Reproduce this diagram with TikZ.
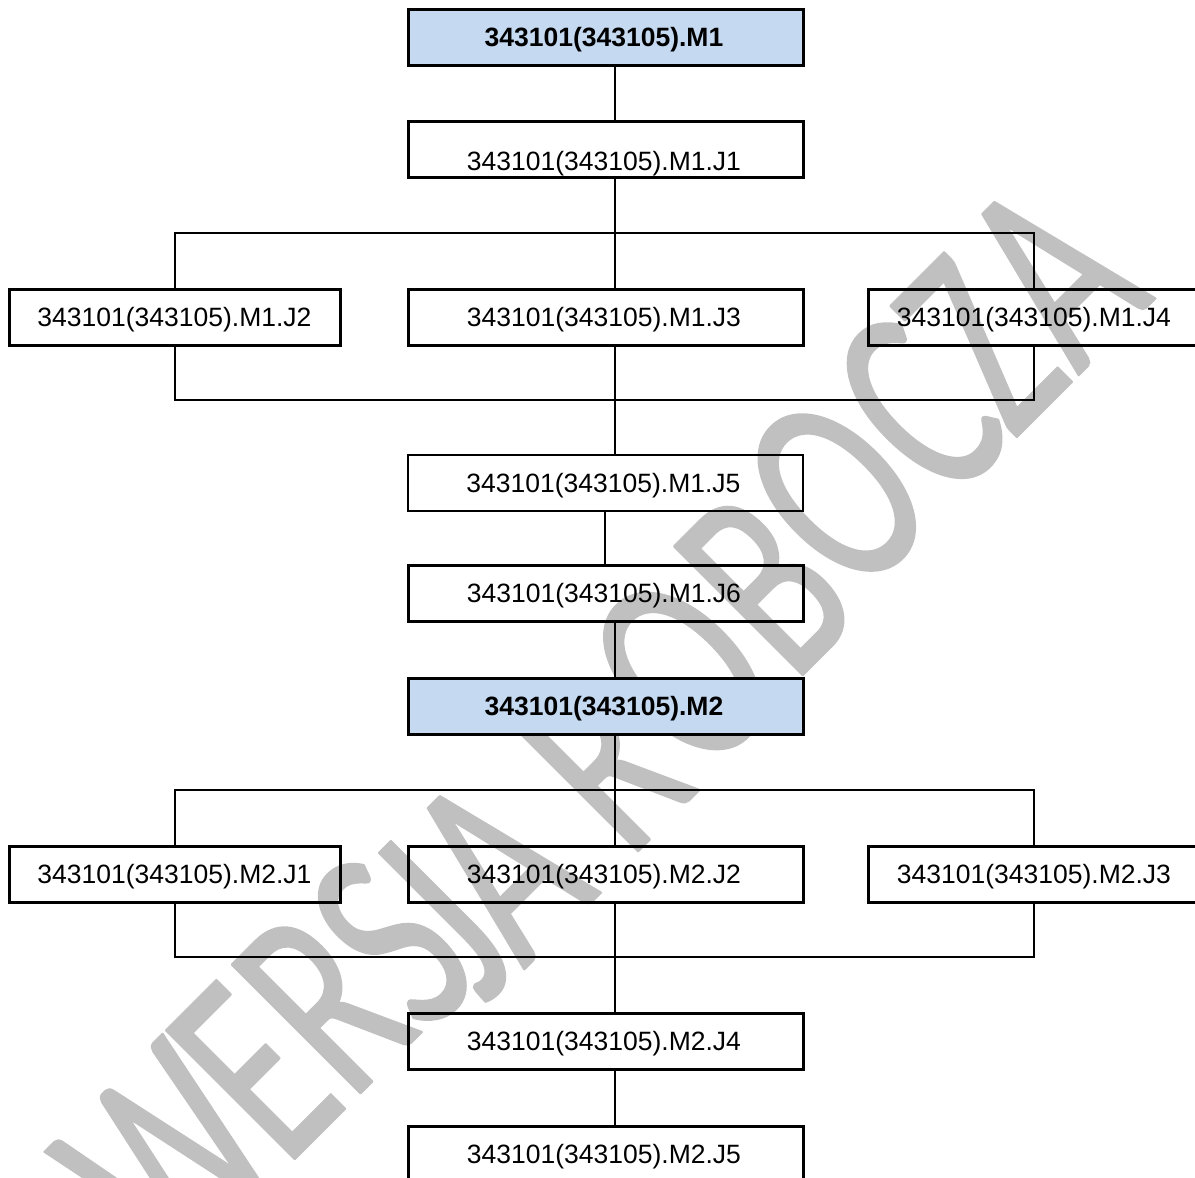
\documentclass[tikz,border=0pt]{standalone}
\usepackage{fontspec}
\setmainfont{Liberation Sans}
\newfontfamily\wmfont[FakeStretch=0.67]{Carlito}
\newcommand{\wml}[3]{\kern#1pt\raisebox{#2pt}{#3}}
\definecolor{headblue}{RGB}{197,217,241}
\definecolor{wmgrey}{RGB}{192,192,192}
\tikzset{
  x=1pt,y=-1pt,
  sidebox/.style={draw=black,line width=3pt,minimum width=331pt,minimum height=56pt,inner sep=0pt,outer sep=0pt,
     text height=19pt,text depth=0pt,font=\fontsize{26.5pt}{30pt}\selectfont},
  jobbox/.style={sidebox,minimum width=395pt,execute at end node={\hspace*{3pt}}},
  thinbox/.style={jobbox,line width=2pt},
  headbox/.style={jobbox,fill=headblue,font=\fontsize{26.5pt}{30pt}\selectfont\bfseries},
  lowtext/.style={text height=43pt},
  wire/.style={draw=black,line width=2pt,line cap=rect},
  mark text/.style={text=wmgrey,inner sep=0pt,outer sep=0pt,font=\fontsize{284pt}{300pt}\wmfont}
}
\begin{document}
\begin{tikzpicture}
\useasboundingbox (0,0) rectangle (1195,1178);
\clip (0,0) rectangle (1195,1178);
\node[mark text,rotate=45,anchor=base west] (wm) at (172.5,1281.5)
  {\special{pdf:code 2 Tr 1 j 1 J 2 w}%
   W\wml{-10}{0}{E}\wml{0}{0}{R}\wml{-4}{-6}{S}\wml{-23}{-25}{J}\wml{-8}{-28}{A}\ %
   \wml{-2}{-25}{R}\wml{6}{-20}{O}\wml{6}{-17}{B}\wml{0}{-3}{O}\wml{5}{0}{C}\wml{-8}{0}{Z}\wml{3}{0}{A}%
   \special{pdf:code 0 Tr 0 j 0 J 1 w}};

\node[headbox] (m1) at (605.5,37) {343101(343105).M1};
\node[jobbox,lowtext] (m1j1) at (605.5,149) {343101(343105).M1.J1};
\node[sidebox] (m1j2) at (174.5,317) {343101(343105).M1.J2};
\node[jobbox] (m1j3) at (605.5,317) {343101(343105).M1.J3};
\node[sidebox] (m1j4) at (1034,317) {343101(343105).M1.J4};
\node[thinbox] (m1j5) at (605,482.5) {343101(343105).M1.J5};
\node[jobbox] (m1j6) at (605.5,593) {343101(343105).M1.J6};
\node[headbox] (m2) at (605.5,706) {343101(343105).M2};
\node[sidebox] (m2j1) at (174.5,874) {343101(343105).M2.J1};
\node[jobbox] (m2j2) at (605.5,874) {343101(343105).M2.J2};
\node[sidebox] (m2j3) at (1034,874) {343101(343105).M2.J3};
\node[jobbox] (m2j4) at (605.5,1041) {343101(343105).M2.J4};
\node[jobbox] (m2j5) at (605.5,1154) {343101(343105).M2.J5};

\coordinate (sp) at (615,0);
\coordinate (a1) at (0,233);
\coordinate (a2) at (0,400);
\coordinate (b1) at (0,790);
\coordinate (b2) at (0,957);

\draw[wire] (m1.south -| sp) -- (m1j1.north -| sp);
\draw[wire] (m1j1.south -| sp) -- (m1j3.north -| sp);
\draw[wire] (m1j2.north) -- (m1j2.north |- a1) -- (m1j4.north |- a1) -- (m1j4.north);
\draw[wire] (m1j2.south) -- (m1j2.south |- a2) -- (m1j4.south |- a2) -- (m1j4.south);
\draw[wire] (m1j3.south -| sp) -- (m1j5.north -| sp);
\draw[wire] (m1j5.south) -- (m1j6.north -| m1j5.south);
\draw[wire] (m1j6.south -| sp) -- (m2.north -| sp);
\draw[wire] (m2.south -| sp) -- (m2j2.north -| sp);
\draw[wire] (m2j1.north) -- (m2j1.north |- b1) -- (m2j3.north |- b1) -- (m2j3.north);
\draw[wire] (m2j1.south) -- (m2j1.south |- b2) -- (m2j3.south |- b2) -- (m2j3.south);
\draw[wire] (m2j2.south -| sp) -- (m2j4.north -| sp);
\draw[wire] (m2j4.south -| sp) -- (m2j5.north -| sp);
\end{tikzpicture}
\end{document}
